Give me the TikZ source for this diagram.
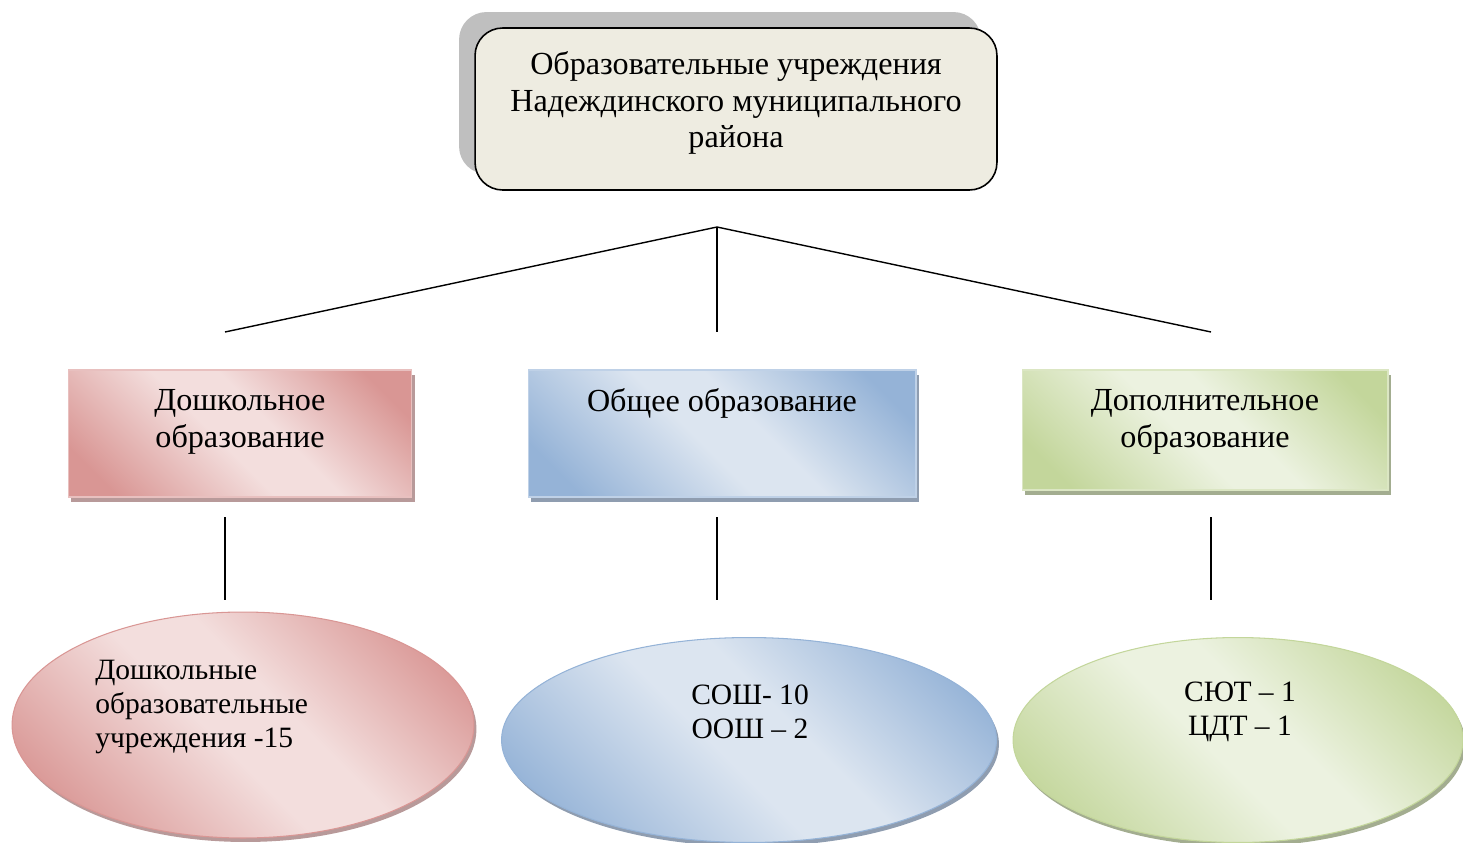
\documentclass[tikz,border=0pt]{standalone}
\usepackage{fontspec}
\setmainfont{Liberation Serif}
\usepackage{tikz}
\usetikzlibrary{shapes.geometric, shadows, positioning}
\definecolor{headfill}{HTML}{EEECE1}
\definecolor{headshade}{HTML}{BFBFBF}
\definecolor{pinkdark}{HTML}{D99694}
\definecolor{pinklight}{HTML}{F3DEDD}
\definecolor{pinkshade}{HTML}{B89A9A}
\definecolor{bluedark}{HTML}{95B3D7}
\definecolor{bluelight}{HTML}{DCE5F0}
\definecolor{blueshade}{HTML}{8F9DB0}
\definecolor{greendark}{HTML}{C3D69B}
\definecolor{greenlight}{HTML}{ECF2E0}
\definecolor{greenshade}{HTML}{A3AD90}
\pgfdeclarehorizontalshading{pinkband}{100bp}{color(0bp)=(pinkdark); color(22bp)=(pinkdark); color(46bp)=(pinklight); color(56bp)=(pinklight); color(78bp)=(pinkdark); color(100bp)=(pinkdark)}
\pgfdeclarehorizontalshading{blueband}{100bp}{color(0bp)=(bluedark); color(22bp)=(bluedark); color(46bp)=(bluelight); color(56bp)=(bluelight); color(78bp)=(bluedark); color(100bp)=(bluedark)}
\pgfdeclarehorizontalshading{greenband}{100bp}{color(0bp)=(greendark); color(22bp)=(greendark); color(46bp)=(greenlight); color(56bp)=(greenlight); color(78bp)=(greendark); color(100bp)=(greendark)}

\begin{document}
\begin{tikzpicture}[
    x=0.02cm, y=-0.02cm,
    headbox/.style={rectangle, rounded corners=0.55cm, draw=black, line width=0.9pt, fill=headfill, minimum width=10.44cm, minimum height=3.24cm, general shadow={fill=headshade, shadow xshift=-0.32cm, shadow yshift=0.32cm}},
    branch/.style={rectangle, draw=#1dark!60!white, line width=0.6pt, shading=#1band, shading angle=45, minimum height=2.54cm, general shadow={fill=#1shade, shadow xshift=0.06cm, shadow yshift=-0.1cm}},
    oval/.style={ellipse, draw=#1dark, line width=0.6pt, shading=#1band, shading angle=45, general shadow={fill=#1shade, shadow xshift=0.05cm, shadow yshift=-0.08cm}},
    txt/.style={align=center, font=\fontsize{18.3pt}{21pt}\selectfont, inner sep=0pt},
    small/.style={align=center, font=\fontsize{16.8pt}{19.6pt}\selectfont, inner sep=0pt},
    link/.style={draw=black, line width=0.8pt}
]
\useasboundingbox (0,0) rectangle (1463,842);

% top
\node[headbox] (head) at (736,109) {};
\node[txt] (headText) at (736,103) {Образовательные учреждения\\Надеждинского муниципального\\района};

% fork
\coordinate (fork) at (717,227);
\coordinate (preTop) at (225,332);
\coordinate (genTop) at (717,332);
\coordinate (addTop) at (1211,332);
\draw[link] (fork) -- (preTop);
\draw[link] (fork) -- (genTop);
\draw[link] (fork) -- (addTop);

% branches
\node[branch=pink, minimum width=6.88cm] (pre) at (240,433.5) {};
\node[branch=blue, minimum width=7.76cm] (gen) at (722,433.5) {};
\node[branch=green, minimum width=7.32cm, minimum height=2.4cm] (add) at (1205,430) {};
\node[txt] (preText) at (240,421.5) {Дошкольное\\образование};
\node[txt] (genText) at (722,403) {Общее образование};
\node[txt] (addText) at (1205,421.5) {Дополнительное\\образование};

% stems
\coordinate (preUp) at (225,517);
\coordinate (preDown) at (225,600);
\coordinate (genUp) at (717,517);
\coordinate (genDown) at (717,600);
\coordinate (addUp) at (1211,517);
\coordinate (addDown) at (1211,600);
\draw[link] (preUp) -- (preDown);
\draw[link] (genUp) -- (genDown);
\draw[link] (addUp) -- (addDown);

% ovals
\node[oval=pink, minimum width=9.24cm, minimum height=4.52cm] (preOval) at (243,725) {};
\node[oval=blue, minimum width=9.9cm, minimum height=4.1cm] (genOval) at (749,740) {};
\node[oval=green, minimum width=9.0cm, minimum height=4.1cm] (addOval) at (1238,740) {};
\node[small, align=left, anchor=west] (preOvalText) at (95,707) {Дошкольные\\образовательные\\учреждения -15};
\node[small] (genOvalText) at (750,712) {СОШ- 10\\ООШ – 2};
\node[small] (addOvalText) at (1240,712) {СЮТ – 1\\ЦДТ – 1};
\end{tikzpicture}
\end{document}
